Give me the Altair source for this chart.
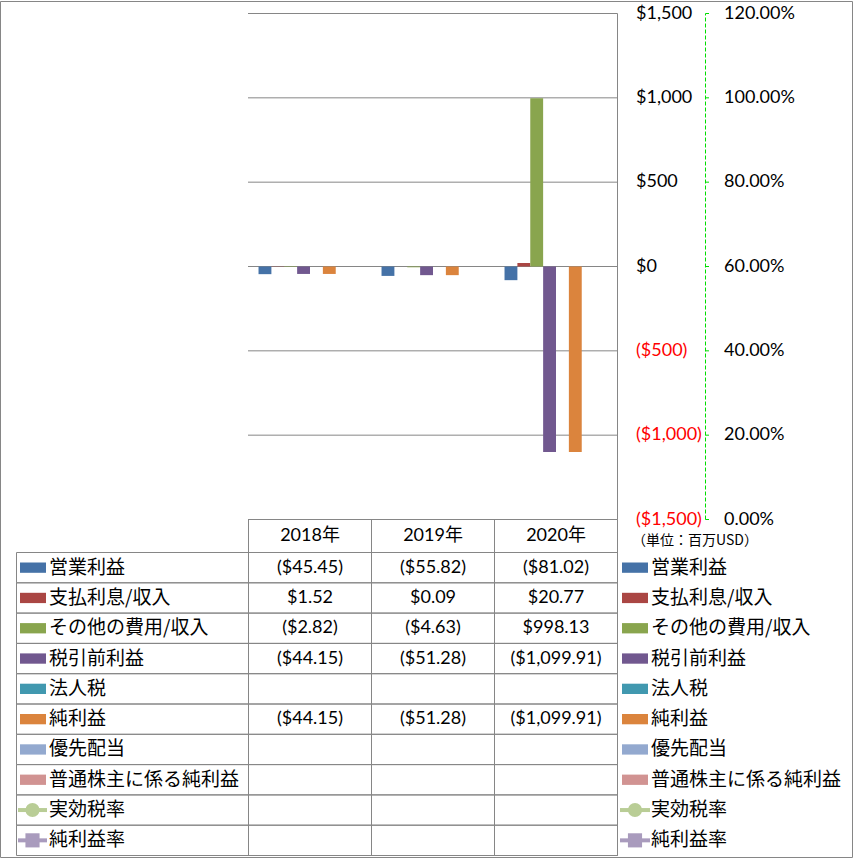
import altair as alt
import pandas as pd

# ---------------- data ----------------
years = ["2018年", "2019年", "2020年"]
series = ["営業利益", "支払利息/収入", "その他の費用/収入", "税引前利益", "法人税",
          "純利益", "優先配当", "普通株主に係る純利益", "実効税率", "純利益率"]
bar_series = series[:8]
line_series = series[8:]
colors = ["#4572A7", "#AA4643", "#89A54E", "#71588F", "#4198AF",
          "#DB843D", "#93A9CF", "#D19392", "#B9CD96", "#A99BBD"]

op_income = [-45.45, -55.82, -81.02]
interest = [1.52, 0.09, 20.77]
other_exp = [-2.82, -4.63, 998.13]
pretax = [-44.15, -51.28, -1099.91]
income_tax = [None, None, None]
net_income = [-44.15, -51.28, -1099.91]
pref_div = [None, None, None]
common_net = [None, None, None]
eff_tax_rate = [None, None, None]
net_margin = [None, None, None]

usd_ticks = [-1500, -1000, -500, 0, 500, 1000, 1500]
pct_ticks = [0.0, 0.2, 0.4, 0.6, 0.8, 1.0, 1.2]
unit_text = ["（単位：百万USD）"]

all_values = [op_income, interest, other_exp, pretax, income_tax,
              net_income, pref_div, common_net, eff_tax_rate, net_margin]


def fmt_money(v):
    return f"(${-v:,.2f})" if v < 0 else f"${v:,.2f}"


def fmt_tick(v):
    return f"(${-v:,})" if v < 0 else f"${v:,}"


rows = []
for s, vals in zip(series, all_values):
    for y, v in zip(years, vals):
        if v is not None:
            rows.append({"series": s, "year": y, "value": v, "label": fmt_money(v)})
df_vals = pd.DataFrame(rows)
df_bars = df_vals[df_vals["series"].isin(bar_series)]

df_usd = pd.DataFrame({"v": usd_ticks, "label": [fmt_tick(v) for v in usd_ticks]})
df_pct = pd.DataFrame({"p": pct_ticks})
df_usd_axis = pd.DataFrame({"lo": [usd_ticks[0]], "hi": [usd_ticks[-1]]})
df_pct_axis = pd.DataFrame({"lo": [pct_ticks[0]], "hi": [pct_ticks[-1]]})
df_years = pd.DataFrame({"year": years})
df_series = pd.DataFrame({"series": series})
df_bar_series = pd.DataFrame({"series": bar_series})
df_line_series = pd.DataFrame({"series": line_series})
df_unit = pd.DataFrame({"t": unit_text})
df_one = pd.DataFrame({"a": [0]})

# ---------------- styles ----------------
GRID = "#868686"
GREEN = "#00DD00"
NUM_FONT = "Lato, 'Noto Sans CJK JP', sans-serif"
JP_FONT = "'Noto Sans CJK JP', sans-serif"

X_BAR = alt.Scale(domain=years, range=[248.5, 617.5], paddingInner=0.163, paddingOuter=0.0815)
X_COL = alt.Scale(domain=years, range=[248.5, 617.5], paddingInner=0, paddingOuter=0)
Y_USD = alt.Scale(domain=[usd_ticks[0], usd_ticks[-1]], range=[519.5, 13.5], nice=False, zero=False)
Y_PCT = alt.Scale(domain=[pct_ticks[0], pct_ticks[-1]], range=[519.5, 13.5], nice=False, zero=False)
Y_ROW = alt.Scale(domain=series, range=[552.5, 855.5], paddingInner=0, paddingOuter=0)
Y_SW = alt.Scale(domain=series, range=[552.5, 855.5], paddingInner=0.66, paddingOuter=0.33)
COLOR = alt.Scale(domain=series, range=colors)
SHAPE = alt.Scale(domain=line_series, range=["circle", "square"])

# ---------------- layers ----------------
frame = alt.Chart(df_one).mark_rect(fillOpacity=0, stroke=GRID, strokeWidth=1).encode(
    x=alt.value(0.5), x2=alt.value(852.5), y=alt.value(1.5), y2=alt.value(857.5))

grid = alt.Chart(df_usd).mark_rule(color=GRID, strokeWidth=1).encode(
    y=alt.Y("v:Q", scale=Y_USD, axis=None), x=alt.value(248), x2=alt.value(617.5))

bars = alt.Chart(df_bars).mark_bar().encode(
    x=alt.X("year:N", scale=X_BAR, axis=None, sort=years),
    xOffset=alt.XOffset("series:N", scale=alt.Scale(domain=bar_series, paddingInner=0, paddingOuter=0)),
    y=alt.Y("value:Q", scale=Y_USD, axis=None, stack=None),
    y2=alt.datum(0),
    color=alt.Color("series:N", scale=COLOR, legend=None),
)

usd_axis_line = alt.Chart(df_usd_axis).mark_rule(color=GRID, strokeWidth=1).encode(
    y=alt.Y("lo:Q", scale=Y_USD, axis=None), y2="hi:Q", x=alt.value(617.5))

usd_labels = alt.Chart(df_usd).mark_text(
    align="left", baseline="middle", font=NUM_FONT, fontSize=18).encode(
    y=alt.Y("v:Q", scale=Y_USD, axis=None), x=alt.value(636), text="label:N",
    color=alt.condition("datum.v < 0", alt.value("#FF0000"), alt.value("#000000")))

pct_axis_line = alt.Chart(df_pct_axis).mark_rule(color=GREEN, strokeWidth=1, strokeDash=[4, 2]).encode(
    y=alt.Y("lo:Q", scale=Y_PCT, axis=None), y2="hi:Q", x=alt.value(705.5))

pct_ticks_l = alt.Chart(df_pct).mark_rule(color=GREEN, strokeWidth=1).encode(
    y=alt.Y("p:Q", scale=Y_PCT, axis=None), x=alt.value(705.5), x2=alt.value(709))

pct_labels = alt.Chart(df_pct).mark_text(
    align="left", baseline="middle", font=NUM_FONT, fontSize=18, color="#000000").encode(
    y=alt.Y("p:Q", scale=Y_PCT, axis=None), x=alt.value(724), text=alt.Text("p:Q", format=".2%"))

unit = alt.Chart(df_unit).mark_text(
    align="left", baseline="middle", font=JP_FONT, fontSize=14, color="#000000").encode(
    x=alt.value(632), y=alt.value(541), text="t:N")

col_cells = alt.Chart(df_years).mark_rect(fillOpacity=0, stroke=GRID, strokeWidth=1).encode(
    x=alt.X("year:N", scale=X_COL, axis=None, sort=years),
    y=alt.value(519.5), y2=alt.value(855.5))

row_cells = alt.Chart(df_series).mark_rect(fillOpacity=0, stroke=GRID, strokeWidth=1).encode(
    y=alt.Y("series:N", scale=Y_ROW, axis=None, sort=series),
    x=alt.value(16.5), x2=alt.value(617.5))

header = alt.Chart(df_years).mark_text(
    align="center", baseline="middle", font=NUM_FONT, fontSize=18, color="#000000").encode(
    x=alt.X("year:N", scale=X_COL, axis=None, sort=years, bandPosition=0.5),
    y=alt.value(535.5), text="year:N")

cells = alt.Chart(df_vals).mark_text(
    align="center", baseline="middle", font=NUM_FONT, fontSize=18, color="#000000").encode(
    x=alt.X("year:N", scale=X_COL, axis=None, sort=years, bandPosition=0.5),
    y=alt.Y("series:N", scale=Y_ROW, axis=None, sort=series, bandPosition=0.5),
    text="label:N")


def legend_block(x_sw0, x_sw1, x_line0, x_line1, x_marker, x_text):
    sw = alt.Chart(df_bar_series).mark_rect().encode(
        y=alt.Y("series:N", scale=Y_SW, axis=None, sort=series),
        x=alt.value(x_sw0), x2=alt.value(x_sw1),
        color=alt.Color("series:N", scale=COLOR, legend=None))
    ln = alt.Chart(df_line_series).mark_rule(strokeWidth=4).encode(
        y=alt.Y("series:N", scale=Y_ROW, axis=None, sort=series, bandPosition=0.5),
        x=alt.value(x_line0), x2=alt.value(x_line1),
        color=alt.Color("series:N", scale=COLOR, legend=None))
    mk = alt.Chart(df_line_series).mark_point(filled=True, opacity=1, size=200).encode(
        y=alt.Y("series:N", scale=Y_ROW, axis=None, sort=series, bandPosition=0.5),
        x=alt.value(x_marker),
        shape=alt.Shape("series:N", scale=SHAPE, legend=None),
        color=alt.Color("series:N", scale=COLOR, legend=None))
    tx = alt.Chart(df_series).mark_text(
        align="left", baseline="middle", font=JP_FONT, fontSize=19, color="#000000").encode(
        y=alt.Y("series:N", scale=Y_ROW, axis=None, sort=series, bandPosition=0.5),
        x=alt.value(x_text), text="series:N")
    return [sw, ln, mk, tx]


left_legend = legend_block(20, 46, 18, 47, 32.5, 49)
right_legend = legend_block(622, 648, 620, 650, 635, 651)

chart = alt.layer(
    frame, grid, bars, usd_axis_line, usd_labels,
    pct_axis_line, pct_ticks_l, pct_labels, unit,
    col_cells, row_cells, header, cells,
    *left_legend, *right_legend,
).resolve_scale(
    x="independent", y="independent"
).properties(
    width=853, height=858,
    autosize=alt.AutoSizeParams(type="none"),
    padding=0,
    background="white",
).configure_view(stroke=None)

chart.save("out.html", embed_options={"renderer": "svg", "actions": False})
